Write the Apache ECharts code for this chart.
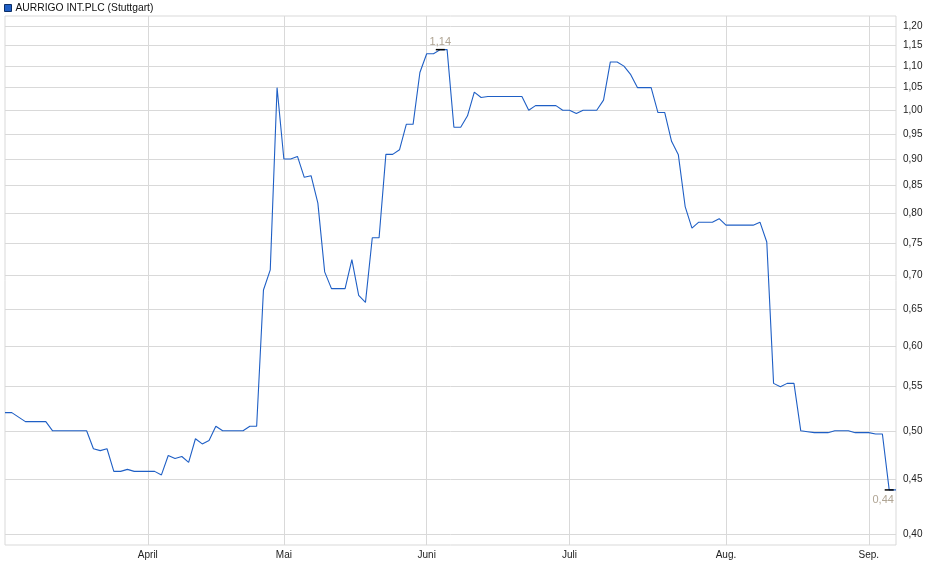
<!DOCTYPE html>
<html>
<head>
<meta charset="utf-8">
<script src="https://cdn.jsdelivr.net/npm/echarts@6/dist/echarts.min.js"></script>
<style>
  html, body { margin: 0; padding: 0; background: #fff; }
  #chart { width: 940px; height: 579px; }
</style>
</head>
<body>
<div id="chart"></div>
<script>
// Kursverlauf, ein Wert pro Handelstag (Stuttgart)
var prices = [
  0.52, 0.52, 0.515, 0.51, 0.51, 0.51, 0.51, 0.50, 0.50, 0.50,
  0.50, 0.50, 0.50, 0.481, 0.479, 0.481, 0.458, 0.458, 0.46, 0.458,
  0.458, 0.458, 0.458, 0.4545, 0.474, 0.471, 0.473, 0.467, 0.4915, 0.486,
  0.4896, 0.505, 0.50, 0.50, 0.50, 0.50, 0.505, 0.505, 0.678, 0.708,
  1.05, 0.90, 0.90, 0.905, 0.865, 0.868, 0.818, 0.705, 0.68, 0.68,
  0.68, 0.724, 0.670, 0.660, 0.759, 0.759, 0.909, 0.909, 0.918, 0.97,
  0.97, 1.085, 1.13, 1.13, 1.14, 1.14, 0.964, 0.964, 0.988, 1.04,
  1.028, 1.03, 1.03, 1.03, 1.03, 1.03, 1.03, 1.00, 1.01, 1.01,
  1.01, 1.01, 1.00, 1.00, 0.993, 1.00, 1.00, 1.00, 1.022, 1.11,
  1.11, 1.10, 1.08, 1.05, 1.05, 1.05, 0.995, 0.995, 0.935, 0.908,
  0.812, 0.775, 0.785, 0.785, 0.785, 0.791, 0.780, 0.78, 0.78, 0.78,
  0.78, 0.785, 0.752, 0.554, 0.550, 0.554, 0.554, 0.50, 0.499, 0.498,
  0.498, 0.498, 0.50, 0.50, 0.50, 0.498, 0.498, 0.498, 0.4965, 0.4965,
  0.44, 0.44
];
// erster Handelstag des Monats (Index) und Beschriftung
var monthStarts = [21, 41, 62, 83, 106, 127];
var monthLabels = ['April', 'Mai', 'Juni', 'Juli', 'Aug.', 'Sep.'];
// Achsenbeschriftung rechts (logarithmische Skala)
var yTicks = [0.40, 0.45, 0.50, 0.55, 0.60, 0.65, 0.70, 0.75, 0.80, 0.85,
  0.90, 0.95, 1.00, 1.05, 1.10, 1.15, 1.20];
var yMin = 0.3906, yMax = 1.226;
var seriesName = 'AURRIGO INT.PLC (Stuttgart)';

function fmt(v) {
  return v.toFixed(2).replace('.', ',');
}
function lg(v) {
  return Math.log10(v);
}

var days = [];
for (var i = 0; i < prices.length; i++) days.push(String(i));

function isMonthStart(index) {
  return monthStarts.indexOf(index) >= 0;
}

var chart = echarts.init(document.getElementById('chart'), null, { renderer: 'canvas' });
var tickVals = yTicks.map(lg);

var option = {
  animation: false,
  backgroundColor: '#fff',
  textStyle: { fontFamily: 'Liberation Sans, Arial, sans-serif' },
  legend: {
    left: 4,
    top: 3,
    padding: 0,
    icon: 'rect',
    itemWidth: 7,
    itemHeight: 7,
    selectedMode: false,
    textStyle: { fontSize: 10.3, color: '#111', padding: [0, 0, 0, -1] },
    itemStyle: { borderColor: '#0d2f66', borderWidth: 1 },
    data: [seriesName]
  },
  grid: {
    left: 5,
    right: 44,
    top: 16,
    bottom: 34,
    show: true,
    borderColor: '#d9d9d9',
    borderWidth: 1
  },
  xAxis: {
    type: 'category',
    data: days,
    boundaryGap: false,
    axisLine: { show: false },
    axisTick: { show: false },
    axisLabel: {
      interval: function (index) { return isMonthStart(index); },
      formatter: function (val, index) {
        return monthLabels[monthStarts.indexOf(index)];
      },
      fontSize: 10,
      color: '#222',
      margin: 5
    },
    splitLine: {
      show: true,
      interval: function (index) { return isMonthStart(index); },
      lineStyle: { color: '#d9d9d9', width: 1 }
    }
  },
  yAxis: {
    type: 'value',
    position: 'right',
    min: lg(yMin),
    max: lg(yMax),
    axisLine: { show: false },
    axisTick: { show: false, customValues: tickVals },
    axisLabel: {
      customValues: tickVals,
      formatter: function (v) { return fmt(Math.pow(10, v)); },
      fontSize: 10,
      color: '#222',
      margin: 7
    },
    splitLine: { show: true, lineStyle: { color: '#d9d9d9', width: 1 } }
  },
  series: [{
    name: seriesName,
    type: 'line',
    data: prices.map(lg),
    symbol: 'none',
    color: '#1f5fc5',
    lineStyle: { color: '#1f5fc5', width: 1.1 },
    markPoint: {
      symbol: 'rect',
      symbolSize: [9, 1.5],
      itemStyle: { color: '#000' },
      label: {
        show: true,
        fontSize: 11,
        color: '#b0a594',
        formatter: function (p) { return fmt(Math.pow(10, p.value)); }
      },
      data: [
        { type: 'max', label: { position: 'top', distance: 1 } },
        { type: 'min', label: { position: 'bottom', distance: 4, offset: [-6, 0] } }
      ]
    }
  }]
};
chart.setOption(option);
</script>
</body>
</html>
